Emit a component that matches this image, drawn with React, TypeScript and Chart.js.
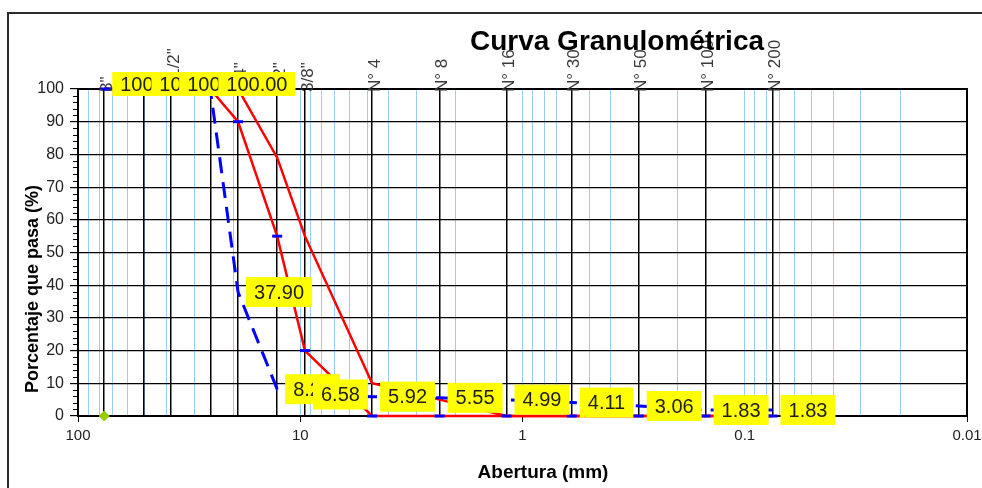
import React, { useEffect, useRef } from 'react';
import { Chart, registerables } from 'chart.js';

Chart.register(...registerables);

// ---- data ----
const sieveLabels = ['3"', '2"', '1 1/2"', '1"', '3/4"', '1/2"', '3/8"', 'N° 4', 'N° 8', 'N° 16', 'N° 30', 'N° 50', 'N° 100', 'N° 200'];
const sieveSizes = [76.2, 50.8, 38.1, 25.4, 19.05, 12.7, 9.525, 4.75, 2.36, 1.18, 0.6, 0.3, 0.15, 0.075];
const sampleValues = [100, 100, 100, 100, 37.9, 8.21, 6.58, 5.92, 5.55, 4.99, 4.11, 3.06, 1.83, 1.83];
const upperLimit = [100, 100, 100, 100, 100, 79, 55, 10, 5, 0, 0, 0, 0, 0];
const lowerLimit = [100, 100, 100, 100, 90, 55, 20, 0, 0, 0, 0, 0, 0, 0];
const originSize = [76.2];
const originValue = [0];
const xMajorValues = [100, 10, 1, 0.1, 0.01];
const xMajorLabels = ['100', '10', '1', '0.1', '0.01'];
const yTicks = [0, 10, 20, 30, 40, 50, 60, 70, 80, 90, 100];

const TITLE = 'Curva Granulométrica';
const X_TITLE = 'Abertura (mm)';
const Y_TITLE = 'Porcentaje que pasa (%)';

const FONT = "'Liberation Sans', Arial, sans-serif";

// grid values for the logarithmic axis: 1..9 x 10^k plus sieve openings
const minorGrid: number[] = [];
for (let k = -2; k <= 1; k++) {
  for (let m = 1; m <= 9; m++) minorGrid.push(+(m * Math.pow(10, k)).toPrecision(6));
}
minorGrid.push(100);

const same = (a: number, b: number) => Math.abs(a - b) / Math.max(Math.abs(b), 1e-9) < 1e-6;
const isSieve = (v: number) => sieveSizes.some((s) => same(v, s));
const majorIndex = (v: number) => xMajorValues.findIndex((m) => same(v, m));

const gridValues: number[] = [...minorGrid];
sieveSizes.forEach((s) => {
  if (!gridValues.some((g) => same(g, s))) gridValues.push(s);
});
gridValues.sort((a, b) => a - b);

const pts = (ys: number[], xs: number[] = sieveSizes) => xs.map((x, i) => ({ x, y: ys[i] }));

const overlayPlugin = {
  id: 'overlay',
  beforeDraw(chart: any) {
    const ctx = chart.ctx;
    ctx.save();
    ctx.fillStyle = '#ffffff';
    ctx.fillRect(0, 0, chart.width, chart.height);
    ctx.strokeStyle = '#2b2b2b';
    ctx.lineWidth = 2;
    ctx.beginPath();
    ctx.moveTo(8, chart.height + 5);
    ctx.lineTo(8, 13);
    ctx.lineTo(chart.width + 5, 13);
    ctx.stroke();
    ctx.restore();
  },
  beforeDatasetsDraw(chart: any) {
    const ctx = chart.ctx;
    const a = chart.chartArea;
    const y = chart.scales.y;
    ctx.save();
    // minor ticks on the y axis
    ctx.strokeStyle = '#000';
    ctx.lineWidth = 1;
    for (let v = 0; v <= 100; v += 2) {
      if (v % 10 === 0) continue;
      const py = Math.round(y.getPixelForValue(v)) + 0.5;
      ctx.beginPath();
      ctx.moveTo(a.left - 5, py);
      ctx.lineTo(a.left, py);
      ctx.stroke();
    }
    // plot border
    ctx.lineWidth = 2;
    ctx.strokeRect(a.left, a.top, a.right - a.left, a.bottom - a.top);
    ctx.restore();
  },
  afterDatasetsDraw(chart: any) {
    const ctx = chart.ctx;
    const a = chart.chartArea;
    const xs = chart.scales.x;
    ctx.save();

    // sieve names above the plot (rotated)
    ctx.fillStyle = '#3a3a3a';
    ctx.font = `17px ${FONT}`;
    ctx.textAlign = 'left';
    ctx.textBaseline = 'middle';
    sieveSizes.forEach((s, i) => {
      const px = xs.getPixelForValue(s) + 3;
      ctx.save();
      ctx.translate(px, a.top + 3);
      ctx.rotate(-Math.PI / 2);
      ctx.fillText(sieveLabels[i], 0, 0);
      ctx.restore();
    });

    // data labels of the sample curve
    const meta = chart.getDatasetMeta(0);
    ctx.font = `20px ${FONT}`;
    ctx.textAlign = 'left';
    ctx.textBaseline = 'middle';
    meta.data.forEach((el: any, i: number) => {
      const txt = sampleValues[i].toFixed(2);
      const tw = ctx.measureText(txt).width;
      const left = el.x + 8;
      let top = el.y - 15;
      let h = 30;
      if (el.y - a.top < 5) {
        top = a.top - 17;
        h = 24;
      }
      ctx.fillStyle = '#FFFF00';
      ctx.fillRect(left, top, tw + 16, h);
      ctx.fillStyle = '#1e1e1e';
      ctx.fillText(txt, left + 8, top + h / 2 + 1);
    });

    // titles
    ctx.fillStyle = '#000';
    ctx.textAlign = 'center';
    ctx.textBaseline = 'middle';
    ctx.font = `bold 28px ${FONT}`;
    ctx.fillText(TITLE, 617, 42);
    ctx.font = `bold 19px ${FONT}`;
    ctx.fillText(X_TITLE, 543, 473);
    ctx.save();
    ctx.translate(33, 289);
    ctx.rotate(-Math.PI / 2);
    ctx.font = `bold 18px ${FONT}`;
    ctx.fillText(Y_TITLE, 0, 0);
    ctx.restore();

    ctx.restore();
  },
};

export default function App() {
  const ref = useRef<HTMLCanvasElement | null>(null);

  useEffect(() => {
    if (!ref.current) return;
    const chart = new Chart(ref.current, {
      type: 'line',
      data: {
        datasets: [
          {
            label: 'Muestra',
            data: pts(sampleValues),
            borderColor: '#0000FF',
            borderWidth: 3,
            borderDash: [16, 9],
            pointRadius: 0,
            fill: false,
            tension: 0,
            clip: false,
          },
          {
            label: 'Límite inferior',
            data: pts(lowerLimit),
            borderColor: '#FF0000',
            borderWidth: 2.5,
            pointStyle: 'line',
            pointRadius: 5,
            pointBorderColor: '#0000FF',
            pointBorderWidth: 3,
            fill: false,
            tension: 0,
            clip: false,
          },
          {
            label: 'Límite superior',
            data: pts(upperLimit),
            borderColor: '#FF0000',
            borderWidth: 2.5,
            pointRadius: 0,
            fill: false,
            tension: 0,
            clip: false,
          },
          {
            label: 'Origen',
            data: pts(originValue, originSize),
            showLine: false,
            pointStyle: 'rectRot',
            pointRadius: 5,
            pointBackgroundColor: '#99CC00',
            pointBorderColor: '#99CC00',
            clip: false,
          },
        ],
      } as any,
      options: {
        animation: false,
        responsive: false,
        devicePixelRatio: 1,
        layout: { padding: { top: 89, right: 15, bottom: 0, left: 0 } },
        plugins: {
          legend: { display: false },
          tooltip: { enabled: false },
          title: { display: false },
        },
        scales: {
          x: {
            type: 'logarithmic',
            reverse: true,
            min: 0.01,
            max: 100,
            afterBuildTicks: (s: any) => {
              s.ticks = gridValues.map((v) => ({ value: v }));
            },
            afterFit: (s: any) => {
              s.height = 72;
            },
            ticks: {
              autoSkip: false,
              maxRotation: 0,
              minRotation: 0,
              padding: 5,
              color: '#222',
              font: { family: FONT, size: 15 },
              callback: (v: any) => {
                const i = majorIndex(Number(v));
                return i >= 0 ? xMajorLabels[i] : '';
              },
            },
            grid: {
              color: (c: any) => (c.tick && isSieve(c.tick.value) ? '#000000' : '#99CCFF'),
              lineWidth: (c: any) => (c.tick && isSieve(c.tick.value) ? 1.5 : 1),
              tickColor: (c: any) => (c.tick && majorIndex(c.tick.value) >= 0 ? '#000000' : 'rgba(0,0,0,0)'),
              tickLength: 6,
              drawTicks: true,
            },
            border: { display: true, color: '#000', width: 2 },
          },
          y: {
            type: 'linear',
            min: 0,
            max: 100,
            afterBuildTicks: (s: any) => {
              s.ticks = yTicks.map((v) => ({ value: v }));
            },
            afterFit: (s: any) => {
              s.width = 78;
            },
            ticks: {
              padding: 6,
              color: '#222',
              font: { family: FONT, size: 16 },
            },
            grid: {
              color: '#000000',
              lineWidth: 1.2,
              tickLength: 8,
              tickColor: '#000000',
            },
            border: { display: true, color: '#000', width: 2 },
          },
        },
      } as any,
      plugins: [overlayPlugin],
    });
    return () => chart.destroy();
  }, []);

  return (
    <div style={{ position: 'fixed', left: 0, top: 0, width: 982, height: 488, background: '#fff' }}>
      <canvas ref={ref} width={982} height={488} style={{ width: 982, height: 488, display: 'block' }} />
    </div>
  );
}
